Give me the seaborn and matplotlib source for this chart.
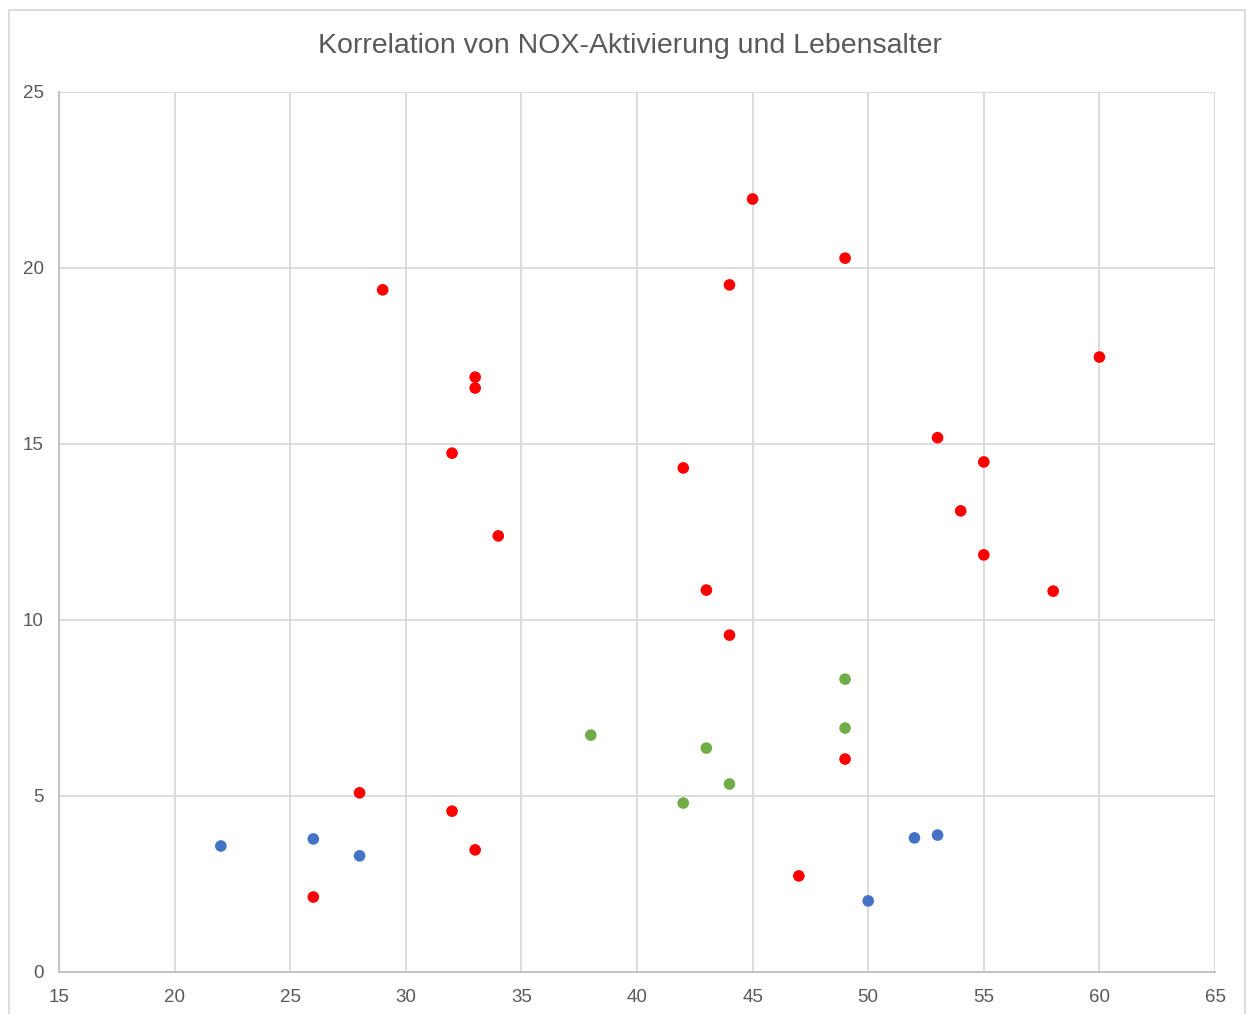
import matplotlib
matplotlib.use("Agg")
import matplotlib.pyplot as plt
import seaborn as sns
import pandas as pd
from matplotlib.patches import Rectangle

# Data
red_x = [29, 33, 33, 32, 34, 45, 49, 44, 42, 43, 44, 49, 47, 60, 53, 55, 54, 55, 58, 28, 32, 33, 26]
red_y = [19.38, 16.9, 16.59, 14.74, 12.39, 21.96, 20.28, 19.52, 14.32, 10.85, 9.57, 6.05, 2.73,
         17.47, 15.18, 14.49, 13.1, 11.85, 10.82, 5.09, 4.57, 3.47, 2.13]
green_x = [38, 43, 44, 42, 49, 49]
green_y = [6.73, 6.36, 5.34, 4.8, 8.32, 6.93]
blue_x = [22, 26, 28, 50, 52, 53]
blue_y = [3.58, 3.78, 3.3, 2.02, 3.81, 3.89]

title = "Korrelation von NOX-Aktivierung und Lebensalter"
x_ticks = [15, 20, 25, 30, 35, 40, 45, 50, 55, 60, 65]
y_ticks = [0, 5, 10, 15, 20, 25]

df = pd.concat([
    pd.DataFrame({"x": red_x, "y": red_y, "g": "rot"}),
    pd.DataFrame({"x": green_x, "y": green_y, "g": "gruen"}),
    pd.DataFrame({"x": blue_x, "y": blue_y, "g": "blau"}),
])
palette = {"rot": "#ff0000", "gruen": "#70ad47", "blau": "#4472c4"}

sns.set_style("white")
plt.rcParams['font.family'] = ['Liberation Sans', 'DejaVu Sans']

fig = plt.figure(figsize=(12.5, 10.14), dpi=100)
ax = fig.add_axes([59/1250, 1 - 972/1014, (1215-59)/1250, (972-92)/1014])

sns.scatterplot(data=df, x="x", y="y", hue="g", palette=palette, s=70,
                edgecolor="none", legend=False, ax=ax, zorder=3)

ax.set_xlim(15, 65)
ax.set_ylim(0, 25)
ax.set_xticks(x_ticks)
ax.set_yticks(y_ticks)
ax.set_xticklabels([str(t) for t in x_ticks])
ax.set_yticklabels([str(t) for t in y_ticks])
ax.grid(True, color="#d9d9d9", linewidth=1.3)
ax.set_axisbelow(True)
for s in ["top", "right"]:
    ax.spines[s].set_visible(False)
for s in ["left", "bottom"]:
    ax.spines[s].set_color("#bfbfbf")
    ax.spines[s].set_linewidth(1.3)
ax.tick_params(axis="both", length=0, labelsize=13.5, colors="#595959")
ax.tick_params(axis="x", pad=12)
ax.tick_params(axis="y", pad=11)
ax.set_xlabel("")
ax.set_ylabel("")

fig.text(630/1250, 1 - 46/1014, title, ha="center", va="center",
         fontsize=20.5, color="#595959")

fig.patches.append(Rectangle((9/1250, -0.05), (1245-9)/1250, 1.05 - 10/1014,
                             transform=fig.transFigure, fill=False,
                             edgecolor="#d9d9d9", linewidth=1.3))

fig.savefig("out.png", dpi=100)
